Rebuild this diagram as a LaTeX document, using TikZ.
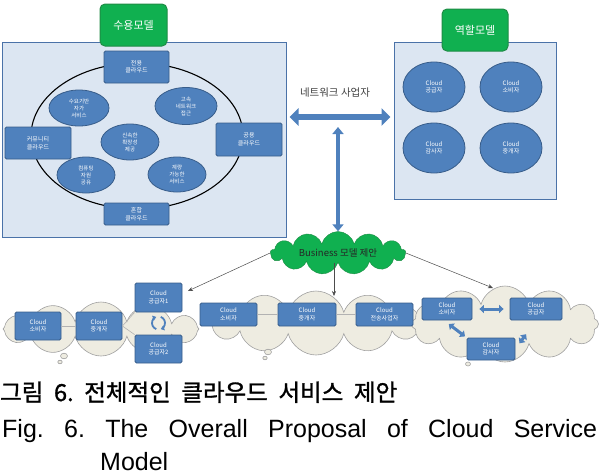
\documentclass[tikz,border=0pt]{standalone}
\usepackage{fontspec}
\usepackage{xcolor}
\usepackage{tikz}
\usetikzlibrary{positioning,arrows.meta,shapes.geometric,shapes.symbols,calc}
\newfontfamily\kr{Noto Sans CJK KR}
\newfontfamily\krcap[FakeBold=1.2]{Noto Sans CJK KR}
\newfontfamily\capfont{Liberation Sans}
\definecolor{boxfill}{HTML}{4F81BD}
\definecolor{boxline}{HTML}{385D8A}
\definecolor{panefill}{HTML}{DCE6F2}
\definecolor{paneline}{HTML}{4A72A8}
\definecolor{grn}{HTML}{10B050}
\definecolor{grnline}{HTML}{1E8C45}
\definecolor{pufffill}{HTML}{EEECE1}
\definecolor{puffline}{HTML}{A0A0A0}

\begin{document}
\begin{tikzpicture}[x=1pt,y=-1pt,>=stealth]
  \tikzset{
    pane/.style={rectangle,draw=paneline,line width=1pt,fill=panefill},
    hdr/.style={rectangle,rounded corners=5pt,draw=grnline,line width=1pt,fill=grn,text=white,
                font=\kr\fontsize{11}{13}\selectfont},
    cbox/.style={rectangle,rounded corners=1.5pt,draw=boxline,line width=0.8pt,fill=boxfill,text=white,
                 align=center,inner sep=0pt,font=\kr\fontsize{6}{7.5}\selectfont},
    cell/.style={ellipse,draw=boxline,line width=0.8pt,fill=boxfill,text=white,align=center,
                 inner sep=0pt,font=\kr\fontsize{5.5}{7}\selectfont},
    puff/.style={cloud,cloud puffs=12,cloud ignores aspect,draw=puffline,fill=pufffill,line width=0.6pt},
    tail/.style={draw=puffline,fill=pufffill,line width=0.6pt},
    blk/.style={line width=5.5pt,boxfill,{Triangle[length=9pt,width=17pt]}-{Triangle[length=9pt,width=17pt]}},
    vblk/.style={line width=4pt,boxfill,{Triangle[length=7pt,width=11pt]}-{Triangle[length=7pt,width=11pt]}},
    sblk/.style={line width=3pt,boxfill,{Triangle[length=4.5pt,width=8pt]}-{Triangle[length=4.5pt,width=8pt]}},
    rot/.style={line width=1.8pt,boxfill,-{Triangle[length=3.5pt,width=5pt]}},
    link/.style={draw=gray!60,line width=0.6pt},
    arr/.style={-{Stealth[length=5pt,width=4pt]},gray!60!black,line width=0.5pt}}
  \useasboundingbox (0,0) rectangle (599,475);
  \node[pane,minimum width=284pt,minimum height=195pt] (need) at (144,139.5) {};
  \node[pane,minimum width=162pt,minimum height=157pt] (role) at (475,120.5) {};
  \node[ellipse,draw,line width=1.1pt,minimum width=212pt,minimum height=146pt] (ring) at (137,136) {};
  \node[hdr,minimum width=67pt,minimum height=42pt] (hneed) at (133.5,25) {수용모델};
  \node[hdr,minimum width=66pt,minimum height=42pt] (hrole) at (475,30) {역할모델};
  \node[cbox,minimum width=65pt,minimum height=32pt] (prv) at (136.5,67) {전용\\클라우드};
  \node[cbox,minimum width=66pt,minimum height=32pt] (com) at (38,143) {커뮤니티\\클라우드};
  \node[cbox,minimum width=66pt,minimum height=33pt] (pub) at (249,139.5) {공용\\클라우드};
  \node[cbox,minimum width=65pt,minimum height=22pt] (hyb) at (136.5,214) {혼합\\클라우드};
  \node[cell,minimum width=60pt,minimum height=36pt] (ods) at (79,108) {수요기반\\자가\\서비스};
  \node[cell,minimum width=62pt,minimum height=37pt] (hsn) at (186,106) {고속\\네트워크\\접근};
  \node[cell,minimum width=58pt,minimum height=36pt] (rel) at (130,142) {신속한\\확장성\\제공};
  \node[cell,minimum width=58pt,minimum height=36pt] (rpl) at (86,175) {컴퓨팅\\자원\\공유};
  \node[cell,minimum width=58pt,minimum height=35pt] (msv) at (177,174.5) {계량\\가능한\\서비스};
  \foreach \nm/\x/\y/\lb in {rp/434/87/공급자,rc/511/87/소비자,ra/434/148/감사자,rb/511/148/중개자}
    \node[cell,minimum width=62pt,minimum height=50pt,font=\kr\fontsize{6}{7.5}\selectfont] (\nm) at (\x,\y) {Cloud\\\lb};
  \coordinate (nw) at (338,117);
  \node[font=\kr\fontsize{10.5}{12}\selectfont,text=black!75] (isp) at (335,93) {네트워크 사업자};
  \draw[blk,shorten <=3pt,shorten >=3pt] (need.east |- nw) -- (role.west |- nw);
  \node[cloud,cloud puffs=13,cloud ignores aspect,draw=grnline,fill=grn,minimum width=135pt,minimum height=30pt,
        font=\kr\fontsize{9.5}{11}\selectfont,text=black!85] (bm) at (338,253) {Business 모델 제안};
  \draw[vblk] ([yshift=-10pt]nw) -- (bm.north);
  \node[puff,minimum width=196pt,minimum height=54pt] (lcl) at (101,329) {};
  \node[puff,minimum width=212pt,minimum height=64pt] (mcl) at (316,323) {};
  \node[puff,minimum width=187pt,minimum height=76pt] (rcl) at (505,324) {};
  \draw[tail] (64,356) ellipse [x radius=3.5,y radius=2.8];
  \draw[tail] (60,362) ellipse [x radius=2.2,y radius=1.8];
  \draw[tail] (268,352) ellipse [x radius=3.5,y radius=2.8];
  \draw[tail] (265,358) ellipse [x radius=2.2,y radius=1.8];
  \coordinate (tl) at (188,291);
  \coordinate (tm) at (334,296);
  \coordinate (tr) at (493,288);
  \draw[arr] (bm.west) -- (tl);
  \draw[arr] (tm |- bm.south) -- (tm);
  \draw[arr] (bm.east) -- (tr);
  \node[cbox,minimum width=46pt,minimum height=28pt] (lcsm) at (38,326) {Cloud\\소비자};
  \node[cbox,minimum width=46pt,minimum height=28pt] (lbrk) at (99,326) {Cloud\\중개자};
  \node[cbox,minimum width=47pt,minimum height=29pt] (lp1) at (158.5,297.5) {Cloud\\공급자1};
  \node[cbox,minimum width=47pt,minimum height=28pt] (lp2) at (158.5,349) {Cloud\\공급자2};
  \draw[link] (lcsm) -- (lbrk);
  \draw[link] (lbrk.east) -- (lp1.south west);
  \draw[link] (lbrk.east) -- (lp2.north west);
  \coordinate (cyc) at (158.5,323);
  \draw[rot] ([shift={(110:6.5)}]cyc) arc[start angle=110,end angle=250,radius=6.5];
  \draw[rot] ([shift={(290:6.5)}]cyc) arc[start angle=290,end angle=430,radius=6.5];
  \node[cbox,minimum width=57pt,minimum height=23pt] (mcsm) at (228.5,314.5) {Cloud\\소비자};
  \node[cbox,minimum width=58pt,minimum height=23pt] (mbrk) at (307,314.5) {Cloud\\중개자};
  \node[cbox,minimum width=57pt,minimum height=23pt] (mtrn) at (384.5,314.5) {Cloud\\전송사업자};
  \draw[link] (mcsm) -- (mbrk);
  \draw[link] (mbrk) -- (mtrn);
  \draw[tail] (468,364) ellipse [x radius=2.5,y radius=2];
  \node[cbox,minimum width=50pt,minimum height=22pt] (rcsm) at (447,309) {Cloud\\소비자};
  \node[cbox,minimum width=52pt,minimum height=22pt] (rprv) at (536,309) {Cloud\\공급자};
  \node[cbox,minimum width=48pt,minimum height=22pt] (raud) at (491,349) {Cloud\\감사자};
  \draw[sblk,shorten <=7pt,shorten >=6pt] (rcsm) -- (rprv);
  \draw[sblk,shorten <=6pt,shorten >=2pt] ([xshift=-3pt]rcsm.south) -- (raud.north west);
  \draw[sblk,shorten <=17pt,shorten >=7pt] (rprv.south) -- (raud.east);
  \node[anchor=base west,inner sep=0pt,font=\krcap\fontsize{23.5}{27}\selectfont] (cap1) at (0,401)
    {\frenchspacing\makebox[397pt][s]{그림 6. 전체적인 클라우드 서비스 제안}};
  \node[anchor=base west,inner sep=0pt,font=\capfont\fontsize{25}{30}\selectfont] (cap2) at (2,437)
    {\frenchspacing\makebox[595pt][s]{Fig. 6. The Overall Proposal of Cloud Service}};
  \node[anchor=base west,inner sep=0pt,font=\capfont\fontsize{25}{30}\selectfont] (cap3) at (100,470) {Model};
\end{tikzpicture}
\end{document}
